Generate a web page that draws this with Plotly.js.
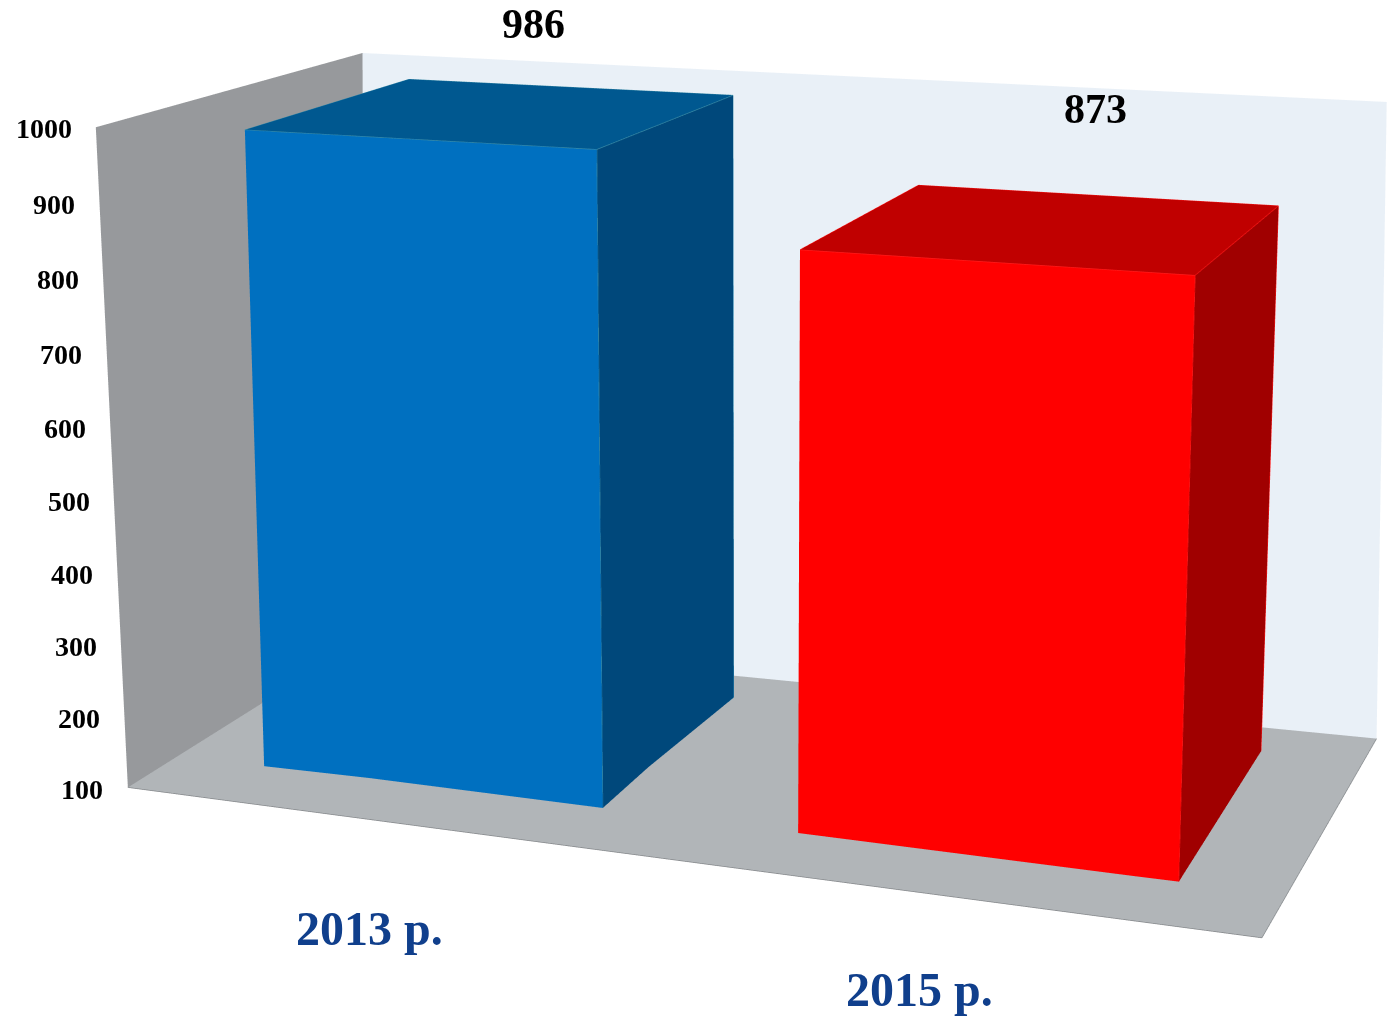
<!DOCTYPE html>
<html><head><meta charset="utf-8">
<script src="https://cdn.plot.ly/plotly-3.0.1.min.js"></script>
<style>html,body{margin:0;padding:0;background:#fff;overflow:hidden;width:1388px;height:1020px}
#wrap{position:absolute;left:0;top:0;width:1388px;height:1020px;overflow:hidden}
#plot{position:absolute}</style>
</head><body><div id="wrap"><div id="plot"></div></div>
<script>
const categories=['2013 р.','2015 р.'];
const values=[986,873];
const tickVals=[100,200,300,400,500,600,700,800,900,1000];

// category slots on the x axis and depth of the bars
const slotLeft=[0.0878,0.5890];
const slotRight=[0.4121,0.9143];
const depthFront=0.1878, depthBack=0.8609;
const zBase=100, zTop=1000;
const faceColors=[
 {front:'#0070C0',side:'#00487B',top:'#005890',edge:'#3A8CA6'},
 {front:'#FF0000',side:'#A00000',top:'#C00000',edge:'#FF1A1A'}];

// camera fitted to the reference; the canvas is larger than the window because
// plotly's field of view is fixed and the reference has a long lens
const canvasW=1399, canvasH=2918, principalX=699.65, principalY=337.6;
const pad=0.05;
const aspect={x:1,y:0.4945,z:0.5825};
const camera={eye:{x:0.98643,y:-2.81877,z:0.73774},center:{x:-0.05611,y:0.00244,z:0.09388},up:{x:-0.06973,y:0.19739,z:0.97784},projection:{type:'perspective'}};

// wall corners (x, y, z) nudged slightly where the reference box is not quite rectilinear
const zR=zTop-zBase;
const cA=[0.0026,0,zBase+0.0045*zR], cB=[1.0009,0,zBase-0.003*zR], cC=[1.0059,1,zBase+0.0083*zR], cD=[-0.0069,1,zBase-0.01*zR];
const cE=[-0.0035,0,zTop+0.0035*zR], cG=[0.9931,1,zTop+0.005*zR], cH=[0.0069,1,zTop+0.0067*zR];

const flat={ambient:1,diffuse:0,specular:0,roughness:1,fresnel:0};
function quad(pts,c){return {type:'mesh3d',x:pts.map(q=>q[0]),y:pts.map(q=>q[1]),z:pts.map(q=>q[2]),i:[0,0],j:[1,2],k:[2,3],facecolor:[c,c],flatshading:true,lighting:flat,hoverinfo:'skip',showscale:false}}
function box(x0,x1,y0,y1,z0,z1,col){
 const X=[x0,x1,x1,x0,x0,x1,x1,x0],Y=[y0,y0,y1,y1,y0,y0,y1,y1],Z=[z0,z0,z0,z0,z1,z1,z1,z1];
 const quads=[[0,1,5,4,col.front],[3,2,6,7,col.front],[0,3,7,4,col.front],[1,2,6,5,col.side],[4,5,6,7,col.top],[0,1,2,3,col.front]];
 const i=[],j=[],k=[],fc=[];quads.forEach(q=>{i.push(q[0],q[0]);j.push(q[1],q[2]);k.push(q[2],q[3]);fc.push(q[4],q[4])});
 return {type:'mesh3d',x:X,y:Y,z:Z,i,j,k,facecolor:fc,flatshading:true,lighting:flat,hoverinfo:'skip',showscale:false};
}
function edges(x0,x1,y0,y1,z0,z1,col,w){
 const segs=[[[x0,y0,z1],[x1,y0,z1]],[[x1,y0,z0],[x1,y0,z1]],[[x1,y0,z1],[x1,y1,z1]],[[x1,y1,z0],[x1,y1,z1]],[[x0,y0,z1],[x0,y1,z1]],[[x0,y1,z1],[x1,y1,z1]],[[x1,y0,z0],[x1,y1,z0]]];
 const X=[],Y=[],Z=[];segs.forEach(s=>{s.forEach(q=>{X.push(q[0]);Y.push(q[1]);Z.push(q[2])});X.push(null);Y.push(null);Z.push(null)});
 return {type:'scatter3d',mode:'lines',x:X,y:Y,z:Z,line:{color:col,width:w},hoverinfo:'skip',showlegend:false};
}
const traces=[
 quad([cA,cD,cH,cE],'#97999C'),
 quad([cD,cC,cG,cH],'#E9F0F7'),
 quad([cA,cB,cC,cD],'#B1B5B8'),
 {type:'scatter3d',mode:'lines',x:[cA[0],cB[0],cC[0]],y:[cA[1],cB[1],cC[1]],z:[cA[2],cB[2],cC[2]],line:{color:'#85888B',width:1.5},hoverinfo:'skip',showlegend:false}
];
values.forEach((v,n)=>{
 traces.push(box(slotLeft[n],slotRight[n],depthFront,depthBack,zBase,v,faceColors[n]));
 traces.push(edges(slotLeft[n],slotRight[n],depthFront,depthBack,zBase,v,faceColors[n].edge,1.5));
});

const ann=[];
tickVals.forEach(t=>ann.push({x:0.005-0.006*(t-zBase)/zR,y:0,z:t,text:'<b>'+t+'</b>',showarrow:false,xanchor:'right',xshift:-25,yshift:1.5,font:{family:'Liberation Serif',size:28,color:'#000'}}));
const valShift=[[-35,63],[0,86]], catShift=[[-16,-105],[-34,-93]];
values.forEach((v,n)=>{
 const mid=(slotLeft[n]+slotRight[n])/2;
 ann.push({x:mid,y:depthBack,z:v,text:'<b>'+v+'</b>',showarrow:false,xshift:valShift[n][0],yshift:valShift[n][1],font:{family:'Liberation Serif',size:42,color:'#000'}});
 ann.push({x:mid,y:0,z:zBase,text:'<b>'+categories[n]+'</b>',showarrow:false,xshift:catShift[n][0],yshift:catShift[n][1],font:{family:'Liberation Serif',size:48,color:'#103F8C'}});
});

const el=document.getElementById('plot');
el.style.left=(principalX-canvasW/2)+'px';el.style.top=(principalY-canvasH/2)+'px';el.style.width=canvasW+'px';el.style.height=canvasH+'px';
const ax={visible:false,showgrid:false,zeroline:false,showspikes:false};
const k=1+2*pad;
Plotly.newPlot(el,traces,{width:canvasW,height:canvasH,margin:{l:0,r:0,t:0,b:0},paper_bgcolor:'#fff',showlegend:false,
 scene:{domain:{x:[0,1],y:[0,1]},dragmode:'orbit',aspectmode:'manual',aspectratio:{x:aspect.x*k,y:aspect.y*k,z:aspect.z*k},
  xaxis:{...ax,range:[-pad,1+pad]},yaxis:{...ax,range:[-pad,1+pad]},zaxis:{...ax,range:[zBase-pad*zR,zTop+pad*zR]},
  camera,annotations:ann}},{displayModeBar:false});
</script></body></html>
